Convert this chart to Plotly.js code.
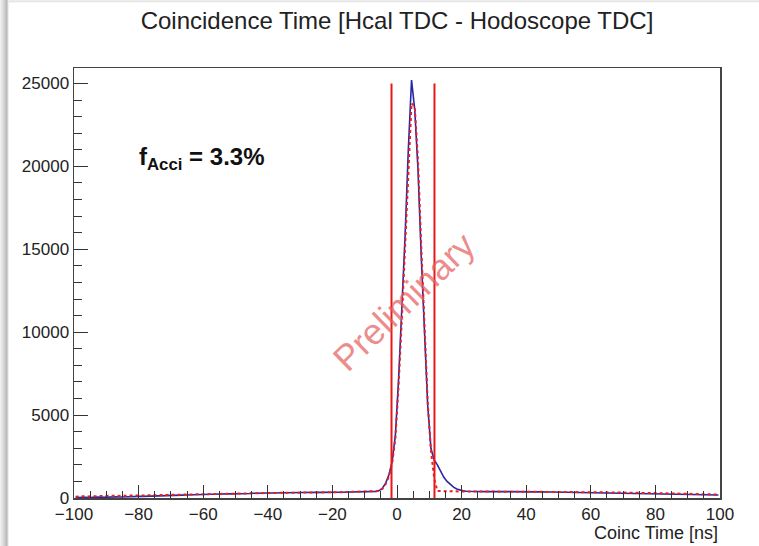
<!DOCTYPE html>
<html>
<head>
<meta charset="utf-8">
<script src="https://cdn.plot.ly/plotly-3.0.1.min.js"></script>
<style>
  html, body { margin: 0; padding: 0; background: #fff; }
  #wrap { position: relative; width: 759px; height: 546px; }
  #chart { position: absolute; left: 0; top: 0; width: 759px; height: 546px; }
  #shadowL { position: absolute; left: 0; top: 0; width: 9px; height: 546px;
    background: linear-gradient(to right, #f3f3f3 0%, #d8d8d8 40%, #b8b8b8 75%, #ffffff 100%); pointer-events: none; }
  #shadowT { position: absolute; left: 0; top: 0; width: 759px; height: 3px;
    background: linear-gradient(to bottom, #f0f0f0, #e6e6e6, #ffffff); pointer-events: none; }
</style>
</head>
<body>
<div id="wrap">
  <div id="chart"></div>
  <div id="shadowT"></div>
  <div id="shadowL"></div>
</div>
<script>
// Histogram binning (1 ns bins from -100 to 100)
const binStart = -100;
const binWidth = 1;

// Data: Hcal TDC - Hodoscope TDC coincidence time (blue, solid)
const dataCounts = [
  20, 35, 25, 40, 30, 45, 38, 50, 42, 55,
  48, 60, 55, 70, 62, 75, 68, 80, 85, 90,
  95, 100, 110, 105, 120, 115, 130, 140, 135, 150,
  160, 155, 170, 175, 180, 190, 185, 200, 210, 205,
  215, 220, 230, 225, 240, 245, 250, 255, 248, 260,
  265, 270, 262, 280, 275, 285, 290, 282, 295, 300,
  298, 305, 310, 302, 315, 308, 320, 318, 325, 322,
  330, 335, 340, 360, 370, 350, 338, 332, 340, 345,
  342, 350, 348, 355, 352, 360, 358, 362, 365, 370,
  375, 380, 390, 400, 450, 600, 900, 1400, 2200, 3800,
  7200, 11200, 15800, 21000, 25200, 23400, 19800, 14600, 9800, 5600,
  3000, 2300, 2000, 1600, 1250, 1000, 800, 650, 540, 470,
  430, 410, 400, 395, 390, 392, 388, 385, 390, 386,
  384, 388, 382, 385, 380, 383, 378, 381, 376, 379,
  375, 378, 372, 374, 370, 372, 366, 369, 365, 362,
  360, 358, 355, 357, 352, 350, 348, 346, 342, 340,
  338, 335, 332, 330, 326, 324, 320, 318, 315, 312,
  308, 305, 302, 298, 295, 290, 287, 283, 280, 276,
  272, 268, 264, 260, 256, 250, 245, 240, 235, 230,
  225, 220, 215, 210, 205, 200, 195, 190, 185, 180
];

// Second histogram (red, dotted)
const cutCounts = [
  80, 100, 90, 110, 95, 120, 105, 115, 125, 110,
  130, 120, 140, 125, 135, 145, 130, 150, 140, 155,
  150, 160, 155, 170, 165, 175, 170, 180, 185, 190,
  195, 200, 205, 210, 208, 215, 220, 225, 230, 228,
  235, 240, 245, 250, 248, 255, 260, 258, 265, 270,
  272, 275, 280, 278, 285, 288, 290, 295, 292, 300,
  302, 305, 308, 312, 310, 315, 318, 320, 322, 325,
  328, 330, 335, 340, 345, 342, 338, 335, 340, 345,
  348, 350, 352, 355, 358, 360, 362, 365, 368, 370,
  372, 375, 380, 390, 420, 560, 850, 1300, 2100, 3600,
  6800, 10800, 15200, 20200, 23800, 23600, 20400, 15200, 10200, 5800,
  2900, 1200, 420, 410, 405, 400, 402, 398, 400, 396,
  398, 394, 396, 392, 395, 390, 393, 388, 391, 386,
  389, 384, 387, 382, 385, 380, 383, 378, 381, 376,
  379, 374, 377, 372, 375, 370, 372, 367, 369, 364,
  366, 361, 363, 358, 360, 355, 357, 352, 354, 348,
  350, 345, 346, 340, 342, 336, 337, 331, 332, 326,
  327, 320, 321, 314, 315, 308, 308, 302, 301, 295,
  294, 288, 286, 280, 278, 272, 270, 264, 261, 255,
  252, 246, 243, 237, 234, 228, 225, 220, 216, 210
];

// Timing cut window
const cutLow = -1.7;
const cutHigh = 11.6;
const cutTop = 25000;

// Labels
const titleText = "Coincidence Time [Hcal TDC - Hodoscope TDC]";
const xTitleText = "Coinc Time [ns]";
const accLabel = "<b>f<sub>Acci</sub> = 3.3%</b>";
const watermark = "Preliminary";
const xTicks = [-100, -80, -60, -40, -20, 0, 20, 40, 60, 80, 100];
const yTicks = [0, 5000, 10000, 15000, 20000, 25000];

const binCenters = dataCounts.map((_, i) => binStart + binWidth * (i + 0.5));

const font = "Liberation Sans, Arial, Helvetica, sans-serif";

const traces = [
  {
    x: binCenters, y: dataCounts, type: "scatter", mode: "lines",
    line: { color: "rgb(40,40,165)", width: 1.6 }, hoverinfo: "x+y"
  },
  {
    x: binCenters, y: cutCounts, type: "scatter", mode: "lines",
    line: { color: "rgb(235,30,30)", width: 2, dash: "dot" }, hoverinfo: "x+y"
  },
  {
    x: [cutLow, cutLow], y: [0, cutTop], type: "scatter", mode: "lines",
    line: { color: "rgb(230,25,25)", width: 2 }, hoverinfo: "x"
  },
  {
    x: [cutHigh, cutHigh], y: [0, cutTop], type: "scatter", mode: "lines",
    line: { color: "rgb(230,25,25)", width: 2 }, hoverinfo: "x"
  }
];

const layout = {
  width: 759, height: 546,
  margin: { l: 74, r: 39, t: 68, b: 48, pad: 0 },
  paper_bgcolor: "rgba(0,0,0,0)", plot_bgcolor: "#fff",
  showlegend: false,
  font: { family: font, color: "#222" },
  title: {
    text: titleText, font: { family: font, size: 24, color: "#222" },
    xref: "paper", x: 0.5, xanchor: "center", y: 1 - 21 / 546, yref: "container", yanchor: "middle"
  },
  xaxis: {
    range: [-100, 100], tickvals: xTicks, ticktext: xTicks.map(v => v < 0 ? "\u2212" + Math.abs(v) : String(v)),
    ticks: "inside", ticklen: 13, tickwidth: 1, tickcolor: "#333",
    minor: { dtick: 5, ticks: "inside", ticklen: 7, tickcolor: "#333", showgrid: false },
    showgrid: false, zeroline: false, showline: true, linecolor: "#444", linewidth: 1.5, mirror: true,
    tickfont: { family: font, size: 17, color: "#222" }
  },
  yaxis: {
    range: [0, 25930], tickvals: yTicks, ticktext: yTicks.map(String),
    ticks: "inside", ticklen: 14, tickwidth: 1, tickcolor: "#333",
    minor: { dtick: 1000, ticks: "inside", ticklen: 8, tickcolor: "#333", showgrid: false },
    showgrid: false, zeroline: false, showline: true, linecolor: "#444", linewidth: 1.5, mirror: true,
    tickfont: { family: font, size: 17, color: "#222" }
  },
  annotations: [
    {
      text: xTitleText, xref: "paper", yref: "paper", x: 1, y: 0, xanchor: "right", yanchor: "top",
      yshift: -23, showarrow: false, font: { family: font, size: 18, color: "#222" }
    },
    {
      text: accLabel, xref: "paper", yref: "paper", x: 0.097, y: 0.79, xanchor: "left", yanchor: "middle",
      showarrow: false, font: { family: font, size: 24, color: "#111" }
    },
    {
      text: watermark, xref: "paper", yref: "paper", x: 0.511, y: 0.456, xanchor: "center", yanchor: "middle",
      textangle: -44, showarrow: false, font: { family: font, size: 36, color: "rgba(230,95,95,0.72)" }
    }
  ]
};

Plotly.newPlot("chart", traces, layout, { displayModeBar: false, staticPlot: true });
</script>
</body>
</html>
